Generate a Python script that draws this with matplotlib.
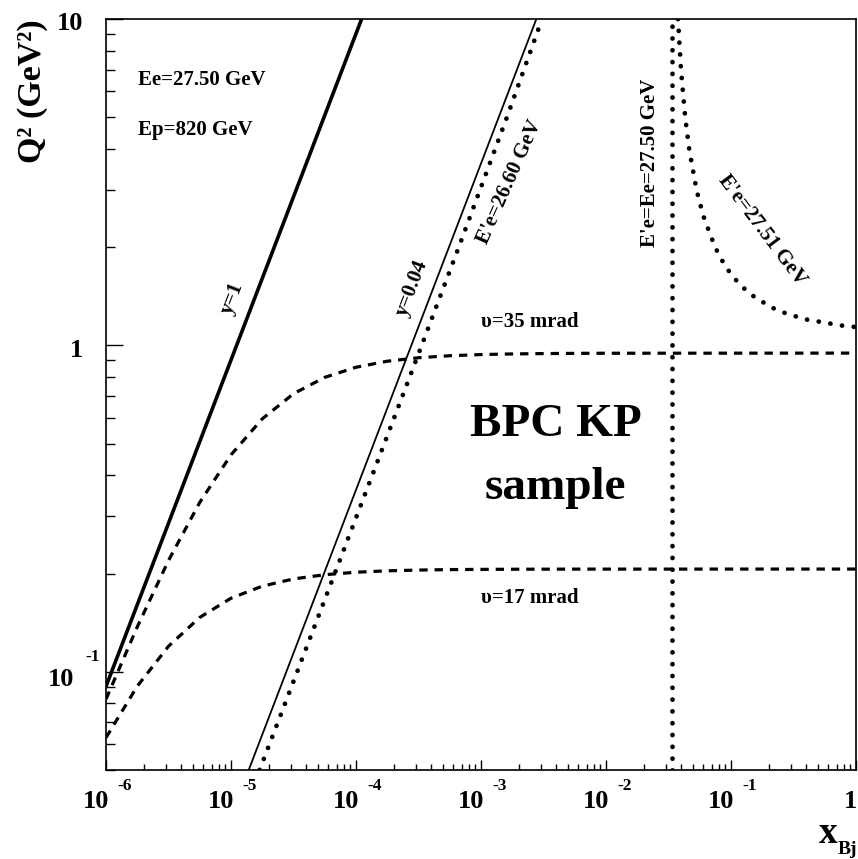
import matplotlib
matplotlib.use('Agg')
import matplotlib.pyplot as plt
from matplotlib.ticker import LogLocator, NullFormatter

plt.rcParams['font.family'] = ['Liberation Serif', 'DejaVu Serif']
plt.rcParams['font.weight'] = 'bold'
plt.rcParams['lines.scale_dashes'] = False

# ---------------- data ----------------
x_range = (1e-6, 1.0)
q2_range = (0.05, 10.0)

# y = 1 line
y1_x = [1.0e-6, 1.109e-4]
y1_q2 = [0.0902, 10.0]
# y = 0.04 line
y004_x = [1.386e-5, 2.772e-3]
y004_q2 = [0.05, 10.0]

# constant electron angle curves
theta_x = [1.0e-6, 1.778e-6, 3.162e-6, 5.623e-6, 1.0e-5, 1.778e-5, 3.162e-5,
           5.623e-5, 1.0e-4, 1.778e-4, 3.162e-4, 5.623e-4, 1.0e-3, 1.778e-3,
           3.162e-3, 5.623e-3, 1.0e-2, 1.0]
theta35_q2 = [0.0824, 0.1372, 0.2192, 0.3303, 0.4619, 0.5955, 0.7109, 0.7980,
              0.8570, 0.8942, 0.9165, 0.9296, 0.9371, 0.9414, 0.9438, 0.9452,
              0.9460, 0.947]
theta17_q2 = [0.0628, 0.0903, 0.1197, 0.1467, 0.1680, 0.1829, 0.1925, 0.1983,
              0.2018, 0.2038, 0.2049, 0.2056, 0.2059, 0.2061, 0.2062, 0.2063,
              0.2063, 0.2064]

# constant scattered electron energy curves
e2660_x = [1.693e-5, 3.384e-5, 6.761e-5, 1.685e-4, 3.354e-4, 6.641e-4, 1.612e-3, 3.077e-3]
e2660_q2 = [0.05, 0.1, 0.2, 0.5, 1.0, 2.0, 5.0, 10.0]

e2750_x = [0.03354, 0.03354]
e2750_q2 = [0.05, 10.0]

e2751_x = [0.03768, 0.03979, 0.04300, 0.04626, 0.05295, 0.05989, 0.07452, 0.08624,
           0.09502, 0.1073, 0.1258, 0.1565, 0.2180, 0.2795, 0.4024, 0.7713, 1.0]
e2751_q2 = [10.0, 7.0, 5.0, 4.0, 3.0, 2.5, 2.0, 1.8, 1.7, 1.6, 1.5, 1.4, 1.3,
            1.25, 1.2, 1.15, 1.138]

x_decades = [-6, -5, -4, -3, -2, -1]

# ---------------- figure ----------------
W, H = 858, 859
fig = plt.figure(figsize=(W / 100, H / 100), dpi=100)
ax = fig.add_axes([106 / W, 1 - 770 / H, (856 - 106) / W, (770 - 19) / H])
ax.set_xscale('log')
ax.set_yscale('log')
ax.set_xlim(*x_range)
ax.set_ylim(*q2_range)

dot_style = dict(color='black', lw=3.4, linestyle=(0, (0.1, 8.4)),
                 dash_capstyle='round', solid_capstyle='round')
dash_style = dict(color='black', lw=2.3, linestyle=(0, (6, 5)), dash_capstyle='butt')

ax.plot(y1_x, y1_q2, color='black', lw=2.6)
ax.plot(y004_x, y004_q2, color='black', lw=1.3)
ax.plot(theta_x, theta35_q2, **dash_style)
ax.plot(theta_x, theta17_q2, **dash_style)
ax.plot(e2660_x, e2660_q2, **dot_style)
ax.plot(e2750_x, e2750_q2, **dot_style)
ax.plot(e2751_x, e2751_q2, **dot_style)

for s in ax.spines.values():
    s.set_linewidth(1.2)

ax.xaxis.set_major_locator(LogLocator(base=10, numticks=20))
ax.xaxis.set_minor_locator(LogLocator(base=10, subs=range(2, 10), numticks=100))
ax.yaxis.set_major_locator(LogLocator(base=10, numticks=20))
ax.yaxis.set_minor_locator(LogLocator(base=10, subs=range(2, 10), numticks=100))
for axis in (ax.xaxis, ax.yaxis):
    axis.set_major_formatter(NullFormatter())
    axis.set_minor_formatter(NullFormatter())
ax.tick_params(which='both', direction='in', top=False, right=False, width=1.0)
ax.tick_params(axis='x', which='major', length=7)
ax.tick_params(axis='x', which='minor', length=4.5)
ax.tick_params(axis='y', which='major', length=12)
ax.tick_params(axis='y', which='minor', length=6.5)

# x tick labels
for e in x_decades:
    ax.annotate('10', xy=(10.0 ** e, 0), xycoords=('data', 'axes fraction'),
                xytext=(3, -38), textcoords='offset pixels', ha='right',
                va='baseline', fontsize=19, fontweight='bold')
    ax.annotate(str(e), xy=(10.0 ** e, 0), xycoords=('data', 'axes fraction'),
                xytext=(11, -20), textcoords='offset pixels', ha='left',
                va='baseline', fontsize=12.5, fontweight='bold')
ax.annotate('1', xy=(1.0, 0), xycoords=('data', 'axes fraction'),
            xytext=(1, -38), textcoords='offset pixels', ha='right',
            va='baseline', fontsize=19, fontweight='bold', annotation_clip=False)

# y tick labels
ax.annotate('10', xy=(0, 10.0), xycoords=('axes fraction', 'data'),
            xytext=(-23, -11), textcoords='offset pixels', ha='right',
            va='baseline', fontsize=19, fontweight='bold')
ax.annotate('1', xy=(0, 1.0), xycoords=('axes fraction', 'data'),
            xytext=(-23, -12), textcoords='offset pixels', ha='right',
            va='baseline', fontsize=19, fontweight='bold')
ax.annotate('10', xy=(0, 0.1), xycoords=('axes fraction', 'data'),
            xytext=(-32, -14), textcoords='offset pixels', ha='right',
            va='baseline', fontsize=19, fontweight='bold')
ax.annotate('-1', xy=(0, 0.1), xycoords=('axes fraction', 'data'),
            xytext=(-21, 11), textcoords='offset pixels', ha='left',
            va='baseline', fontsize=12.5, fontweight='bold')


def ftext(x, y, s, **kw):
    fig.text(x / W, 1 - y / H, s, fontweight='bold', **kw)


# axis titles
ftext(33, 19, 'Q² (GeV²)', rotation=90, ha='center', va='top', fontsize=24.5)
ftext(838, 843, 'x', ha='right', va='baseline', fontsize=27)
ftext(838, 854, 'Bj', ha='left', va='baseline', fontsize=14)

# annotations
ftext(138, 85, 'Ee=27.50 GeV', ha='left', va='baseline', fontsize=15)
ftext(138, 135, 'Ep=820 GeV', ha='left', va='baseline', fontsize=15)
ftext(232, 298, 'y=1', ha='center', va='center', rotation=69,
      rotation_mode='anchor', fontsize=15)
ftext(412, 288, 'y=0.04', ha='center', va='center', rotation=69,
      rotation_mode='anchor', fontsize=15)
ftext(510, 182, "E'e=26.60 GeV", ha='center', va='center', rotation=66,
      rotation_mode='anchor', fontsize=15)
ftext(650, 163, "E'e=Ee=27.50 GeV", ha='center', va='center', rotation=90,
      rotation_mode='anchor', fontsize=15)
ftext(762, 230, "E'e=27.51 GeV", ha='center', va='center', rotation=-53,
      rotation_mode='anchor', fontsize=15)
ftext(530, 322, 'υ=35 mrad', ha='center', va='center', fontsize=15)
ftext(530, 598, 'υ=17 mrad', ha='center', va='center', fontsize=15)
ftext(556, 425, 'BPC KP', ha='center', va='center', fontsize=34)
ftext(555, 488, 'sample', ha='center', va='center', fontsize=34)

fig.savefig('out.png', dpi=100)
